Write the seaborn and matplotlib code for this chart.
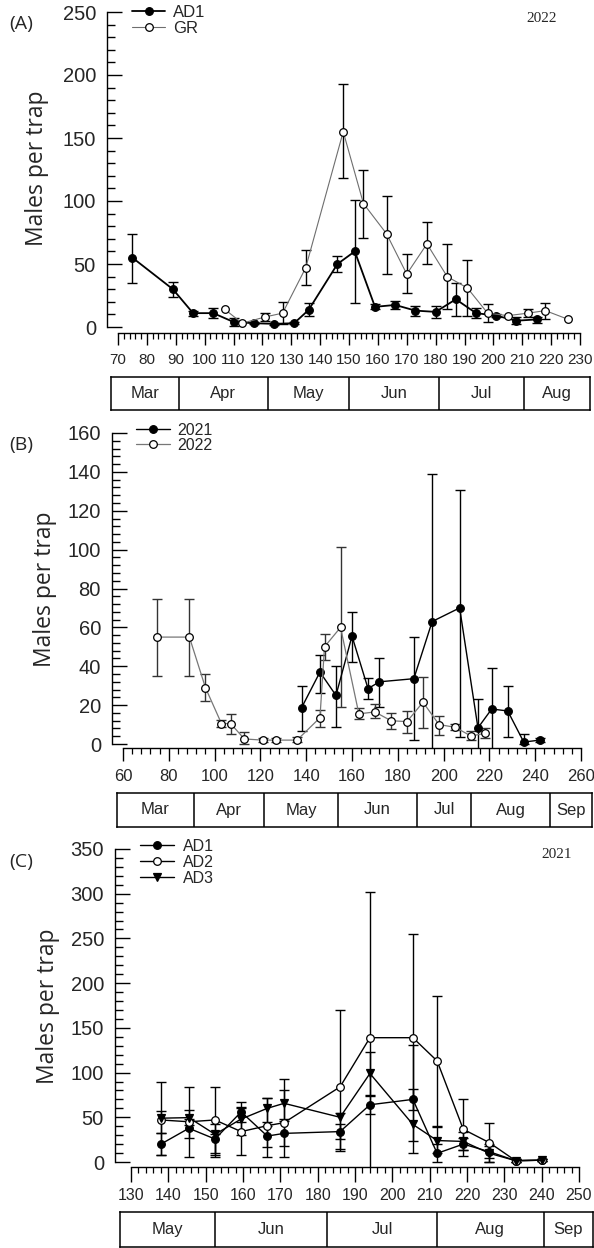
import numpy as np
import pandas as pd
import seaborn as sns
import matplotlib.pyplot as plt
from matplotlib.ticker import FixedLocator

sns.set_style('ticks')
plt.rcParams['font.family'] = ['Liberation Sans', 'DejaVu Sans']

W, H = 594, 1248

# (A) 2022: AD1 vs GR
a_ad1_day = [75, 89, 96, 103, 110, 117, 124, 131, 136, 146, 152, 159, 166, 173, 180, 187, 194, 201, 208, 215]
a_ad1_val = [55, 30, 11, 11, 4, 3, 2.5, 3, 13.5, 50, 60, 16, 17.5, 13, 12, 22, 11, 9, 5, 6]
a_ad1_lo = [35, 24, 9, 7, 1, 2, 1.5, 2, 9, 44, 19, 14, 14, 9, 7, 9, 7, 8, 2, 3]
a_ad1_hi = [74, 36, 13, 15, 7.5, 4, 3.5, 4, 19, 56, 101, 18, 21, 17, 17, 35, 15, 10, 8, 8]

a_gr_day = [107, 113, 121, 127, 135, 148, 155, 163, 170, 177, 184, 191, 198, 205, 212, 218, 226]
a_gr_val = [14, 3, 8, 11, 47, 155, 98, 74, 42, 66, 40, 31, 11, 9, 11, 13, 6]
a_gr_lo = [14, 3, 5, 2, 33, 118, 71, 42, 27, 50, 14, 9, 4, 9, 8, 6, 6]
a_gr_hi = [14, 3, 11, 20, 61, 193, 125, 104, 58, 83, 66, 53, 18, 9, 14, 19, 6]

a_months = ['Mar', 'Apr', 'May', 'Jun', 'Jul', 'Aug']
a_month_edges = [91, 122, 150, 181, 210.5]

# (B) 2021 vs 2022
b21_day = [138, 146, 153, 160, 167, 172, 187, 195, 207, 215, 221, 228, 235, 242]
b21_val = [18.7, 37, 25, 55.5, 28.5, 32, 33.6, 63, 70, 8.3, 18, 17, 1, 2]
b21_lo = [6.7, 26, 9, 42, 23, 19, 2, -15, 3.7, -6, -3, 3.5, 0, 1]
b21_hi = [30, 46, 40, 68, 34, 44.5, 55, 139, 130.5, 23, 39, 30, 5, 3]

b22_day = [75, 89, 96, 103, 107, 113, 121, 127, 136, 146, 148, 155, 163, 170, 177, 184, 191, 198, 205, 212, 218]
b22_val = [55, 55, 29, 10.5, 10.5, 2.6, 2, 2, 2, 13.5, 50, 60, 15.5, 16.5, 12, 11.5, 21.5, 10, 8.6, 4.1, 5.5]
b22_lo = [35, 35, 22, 8.5, 5, 0, 1, 1, 1, 9, 43, 19, 12.8, 13.4, 7.6, 5.5, 8, 4.6, 7.2, 2, 2.9]
b22_hi = [74.5, 74.5, 36, 12.5, 15.5, 6, 3, 3, 3.5, 17.6, 56.5, 101.5, 18.5, 20.5, 16, 17, 34.7, 14.4, 10.3, 6.9, 8]

b_months = ['Mar', 'Apr', 'May', 'Jun', 'Jul', 'Aug', 'Sep']
b_month_edges = [91, 121.6, 153.9, 188.4, 212, 246.5]

# (C) 2021: AD1, AD2, AD3
c_day = [138, 145.5, 152.5, 159.5, 166.5, 171, 186, 194, 205.5, 212, 219, 226, 233, 240]
c_ad1_val = [20, 37.7, 25.7, 56, 29, 32, 34, 64, 70, 9.7, 20, 11.5, 1.5, 2]
c_ad1_lo = [8, 27, 8, 45, 17, 18, 26, 54, 58, 0, 13, 5, 0, 1]
c_ad1_hi = [32, 48, 31, 67, 40, 46, 42, 74, 82, 20, 27, 18, 3, 3]
c_ad2_val = [47, 45, 47, 34, 40.6, 44, 84, 139, 139, 113, 36.6, 21.6, 1.5, 2]
c_ad2_lo = [8, 6, 6, 8, 6, 6, 14, -24, 23, 40, 7, 0, 0, 1]
c_ad2_hi = [90, 84, 84, 60, 72, 80, 170, 302, 255, 186, 70, 44, 3, 3]
c_ad3_val = [49, 49.6, 31, 48, 60, 65.6, 50, 99, 42, 24, 23, 9.7, 1.5, 2]
c_ad3_lo = [32, 41, 10, 30, 45, 48, 12, 75, 10, 10, 13, 0, 0, 1]
c_ad3_hi = [57, 58, 43, 62, 72, 93, 55, 123, 131, 39, 33, 20, 3, 3]

c_months = ['May', 'Jun', 'Jul', 'Aug', 'Sep']
c_month_edges = [152.6, 182.6, 212, 240.5]

fig = plt.figure(figsize=(W / 100, H / 100), dpi=100)


def px_axes(l, t, r, b):
    return fig.add_axes([l / W, 1 - b / H, (r - l) / W, (b - t) / H])


def set_lims(ax, l, t, r, b, xref, yref=None):
    (v1, p1), (v2, p2) = xref
    sx = (p2 - p1) / (v2 - v1)
    ax.set_xlim(v1 + (l - p1) / sx, v1 + (r - p1) / sx)
    if yref is not None:
        (w1, q1), (w2, q2) = yref
        sy = (q1 - q2) / (w2 - w1)
        ax.set_ylim(w1 - (b - q1) / sy, w1 + (q1 - t) / sy)


def series(ax, day, val, lo, hi, label, color, lw, marker, face, ms, ecolor='black'):
    d = np.asarray(day, float)
    v = np.asarray(val, float)
    lo = np.asarray(lo, float)
    hi = np.asarray(hi, float)
    m = hi > lo
    ax.errorbar(d[m], v[m], yerr=[v[m] - lo[m], hi[m] - v[m]], fmt='none',
                ecolor=ecolor, elinewidth=1.0, capsize=3.5, capthick=1.0, zorder=2)
    df = pd.DataFrame({'day': d, 'val': v})
    sns.lineplot(data=df, x='day', y='val', ax=ax, color=color, linewidth=lw,
                 marker=marker, markersize=ms, markerfacecolor=face,
                 markeredgecolor='black', markeredgewidth=0.9, label=label, zorder=3)


def style(ax, xticks, xminor, yticks, yminor, xfs, xlen, xpad):
    for s in ['top', 'right']:
        ax.spines[s].set_visible(False)
    for s in ['left', 'bottom']:
        ax.spines[s].set_color('black')
        ax.spines[s].set_linewidth(1)
    ax.spines['left'].set_bounds(yticks[0], yticks[-1])
    ax.spines['bottom'].set_bounds(xticks[0], xticks[-1])
    ax.xaxis.set_major_locator(FixedLocator(xticks))
    ax.xaxis.set_minor_locator(FixedLocator(xminor))
    ax.yaxis.set_major_locator(FixedLocator(yticks))
    ax.yaxis.set_minor_locator(FixedLocator(yminor))
    ax.tick_params(axis='y', which='major', direction='in', length=11, width=1,
                   labelsize=14.5, pad=8, color='black')
    ax.tick_params(axis='y', which='minor', direction='in', length=5.5, width=1, color='black')
    ax.tick_params(axis='x', which='major', direction='out', length=xlen, width=1,
                   labelsize=xfs, pad=xpad, color='black')
    ax.tick_params(axis='x', which='minor', direction='out', length=4, width=0.9, color='black')
    ax.set_xlabel('')
    ax.set_ylabel('')
    ax.patch.set_alpha(0)


def month_box(l, t, r, b, xref, edges, names, fs=12):
    bx = px_axes(l, t, r, b)
    set_lims(bx, l, t, r, b, xref)
    bx.set_ylim(0, 1)
    bx.set_xticks([])
    bx.set_yticks([])
    for s in bx.spines.values():
        s.set_visible(True)
        s.set_color('black')
        s.set_linewidth(1.1)
    x0, x1 = bx.get_xlim()
    bounds = [x0] + list(edges) + [x1]
    for e in edges:
        bx.axvline(e, color='black', lw=1.1)
    for name, a, c in zip(names, bounds[:-1], bounds[1:]):
        bx.text((a + c) / 2, 0.5, name, ha='center', va='center', fontsize=fs)


def legend(ax, left, top, fs, hl, tp, ls):
    h, lab = ax.get_legend_handles_labels()
    ax.legend(h, lab, loc='upper left', bbox_to_anchor=(left / W, 1 - top / H),
              bbox_transform=fig.transFigure, frameon=False, fontsize=fs,
              handlelength=hl, handletextpad=tp, labelspacing=ls,
              borderpad=0, borderaxespad=0)


open_sans = ['Open Sans', 'DejaVu Sans']

# ---------- panel A ----------
xa = ((70, 118), (230, 580))
ya = ((0, 327), (250, 12))
ax = px_axes(107, 8, 592, 333)
series(ax, a_ad1_day, a_ad1_val, a_ad1_lo, a_ad1_hi, 'AD1', 'black', 1.3, 'o', 'black', 5.5)
series(ax, a_gr_day, a_gr_val, a_gr_lo, a_gr_hi, 'GR', '#6e6e6e', 0.8, 'o', 'white', 5.5)
set_lims(ax, 107, 8, 592, 333, xa, ya)
style(ax, np.arange(70, 231, 10), np.arange(70, 231, 2), np.arange(0, 251, 50),
      np.arange(0, 251, 10), 11, 8.5, 6)
legend(ax, 132, 5, 12, 2.0, 0.45, 0.05)
month_box(111, 377, 590, 410, xa, a_month_edges, a_months)
fig.text(21 / W, 1 - 24 / H, '(A)', ha='center', va='center', fontsize=14, family=open_sans)
fig.text(37 / W, 1 - 168 / H, 'Males per trap', rotation=90, ha='center', va='center',
         fontsize=16.5, family=open_sans)
fig.text(542 / W, 1 - 18 / H, '2022', ha='center', va='center', fontsize=11,
         family=['Liberation Serif', 'DejaVu Serif'])

# ---------- panel B ----------
xb = ((60, 123), (260, 581))
yb = ((0, 744), (160, 433))
ax = px_axes(112, 428, 594, 748)
series(ax, b21_day, b21_val, b21_lo, b21_hi, '2021', 'black', 1.0, 'o', 'black', 5.5)
series(ax, b22_day, b22_val, b22_lo, b22_hi, '2022', '#777777', 0.9, 'o', 'white', 5.5,
       ecolor='#333333')
set_lims(ax, 112, 428, 594, 748, xb, yb)
style(ax, np.arange(60, 261, 20), np.arange(60, 261, 4), np.arange(0, 161, 20),
      np.arange(0, 161, 4), 12, 9, 6)
legend(ax, 136, 423, 11.5, 2.1, 0.5, 0.0)
month_box(117, 793, 592, 827, xb, b_month_edges, b_months)
fig.text(21 / W, 1 - 445 / H, '(B)', ha='center', va='center', fontsize=14, family=open_sans)
fig.text(45 / W, 1 - 589 / H, 'Males per trap', rotation=90, ha='center', va='center',
         fontsize=16.5, family=open_sans)

# ---------- panel C ----------
xc = ((130, 131), (250, 579))
yc = ((0, 1162), (350, 849))
ax = px_axes(115, 845, 592, 1167)
series(ax, c_day, c_ad1_val, c_ad1_lo, c_ad1_hi, 'AD1', 'black', 1.0, 'o', 'black', 5.5)
series(ax, c_day, c_ad2_val, c_ad2_lo, c_ad2_hi, 'AD2', 'black', 1.0, 'o', 'white', 5.5)
series(ax, c_day, c_ad3_val, c_ad3_lo, c_ad3_hi, 'AD3', 'black', 1.0, 'v', 'black', 6)
set_lims(ax, 115, 845, 592, 1167, xc, yc)
style(ax, np.arange(130, 251, 10), np.arange(130, 251, 2), np.arange(0, 351, 50),
      np.arange(0, 351, 10), 11.5, 10.5, 4.5)
legend(ax, 140, 839, 11.5, 2.1, 0.6, 0.05)
month_box(120, 1212, 593, 1247, xc, c_month_edges, c_months)
fig.text(21 / W, 1 - 862 / H, '(C)', ha='center', va='center', fontsize=14, family=open_sans)
fig.text(48 / W, 1 - 1006 / H, 'Males per trap', rotation=90, ha='center', va='center',
         fontsize=16.5, family=open_sans)
fig.text(557 / W, 1 - 854 / H, '2021', ha='center', va='center', fontsize=11,
         family=['Liberation Serif', 'DejaVu Serif'])

fig.savefig('out.png', dpi=100)
